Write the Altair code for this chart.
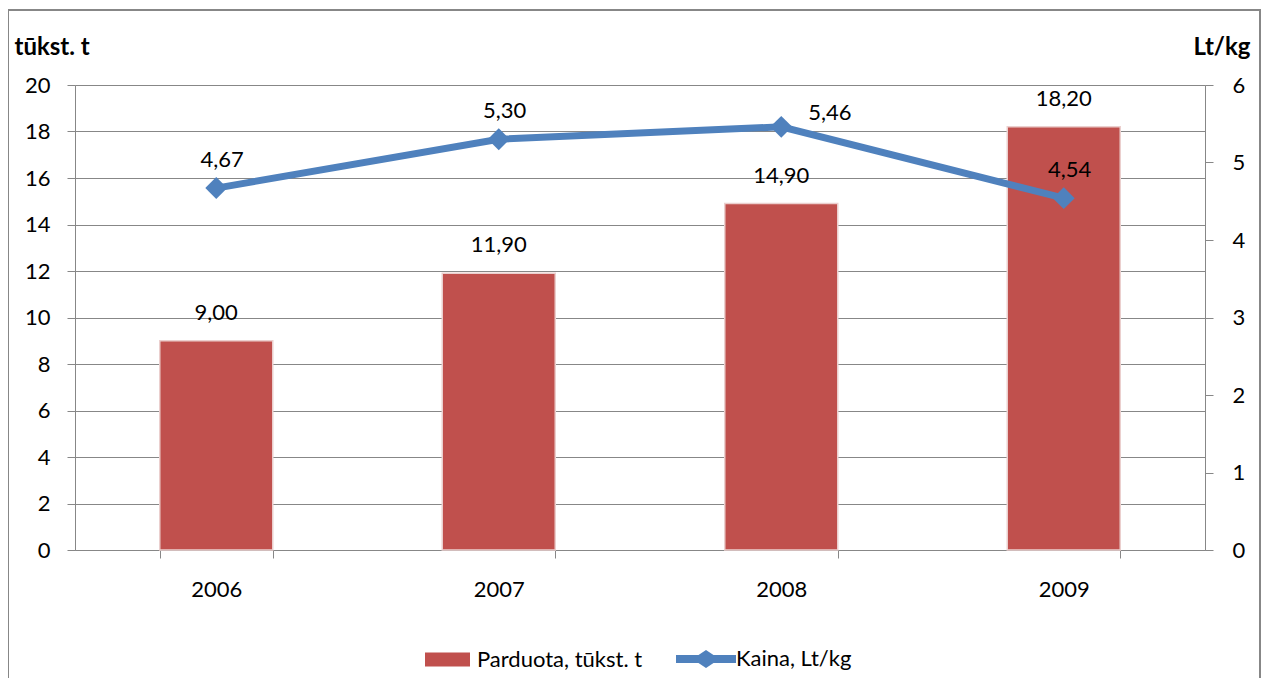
import altair as alt
import pandas as pd

years = ["2006", "2007", "2008", "2009"]
sold = [9.00, 11.90, 14.90, 18.20]
price = [4.67, 5.30, 5.46, 4.54]
sold_name = "Parduota, tūkst. t"
price_name = "Kaina, Lt/kg"

RED = "#C0504D"
BLUE = "#4F81BD"
GRAY = "#878787"
FONT = "Lato"
FS = 22

df = pd.DataFrame({
    "year": years,
    "sold": sold,
    "price": price,
    "sold_lbl": [f"{v:.2f}".replace(".", ",") for v in sold],
    "price_lbl": [f"{v:.2f}".replace(".", ",") for v in price],
    "s1": [sold_name] * len(years),
    "s2": [price_name] * len(years),
})

xenc = alt.X(
    "year:N",
    sort=years,
    scale=alt.Scale(paddingInner=0.6, paddingOuter=0.3),
    axis=alt.Axis(
        title=None, labelAngle=0, labelFontSize=FS, labelColor="black", labelFont=FONT,
        labelPadding=21, tickBand="extent", tickSize=8, tickColor=GRAY,
        domainColor=GRAY, grid=False,
    ),
)

yleft = alt.Y(
    "sold:Q",
    scale=alt.Scale(domain=[0, 20], nice=False),
    axis=alt.Axis(
        orient="left", values=list(range(0, 21, 2)), grid=True, gridColor=GRAY,
        domainColor=GRAY, tickColor=GRAY, tickSize=8, labelFontSize=FS, labelFont=FONT,
        labelColor="black", labelPadding=17, title="tūkst. t", titleAngle=0,
        titleAlign="left", titleBaseline="alphabetic", titleX=-61, titleY=-31,
        titleFontSize=24, titleFont=FONT, titleFontWeight="bold", titleColor="black",
    ),
)

yright = alt.Y(
    "price:Q",
    scale=alt.Scale(domain=[0, 6], nice=False),
    axis=alt.Axis(
        orient="right", values=list(range(0, 7)), grid=False,
        domainColor=GRAY, tickColor=GRAY, tickSize=8, labelFontSize=FS, labelFont=FONT,
        labelColor="black", labelPadding=19, title="Lt/kg", titleAngle=0,
        titleAlign="right", titleBaseline="alphabetic", titleX=45, titleY=-31,
        titleFontSize=24, titleFont=FONT, titleFontWeight="bold", titleColor="black",
    ),
)

base = alt.Chart(df)

bars = base.mark_bar(stroke="#EBCFCE", strokeWidth=1.5).encode(
    x=xenc,
    y=yleft,
    color=alt.Color(
        "s1:N",
        scale=alt.Scale(domain=[sold_name], range=[RED]),
        legend=alt.Legend(
            title=None, orient="none", legendX=350, legendY=552, padding=0,
            symbolType="M-1,-0.31H1V0.31H-1Z", symbolSize=2025, symbolStrokeWidth=0,
            labelFontSize=FS, labelFont=FONT, labelColor="black", labelOffset=7,
            labelLimit=400,
        ),
    ),
)
bar_text = base.mark_text(baseline="middle", dy=-28, fontSize=FS, font=FONT, color="black").encode(
    x=xenc, y=yleft, text="sold_lbl:N"
)
left = alt.layer(bars, bar_text)

line = base.mark_line(color=BLUE, strokeWidth=7).encode(x=xenc, y=yright)
pts = base.mark_point(shape="diamond", filled=True, size=480, opacity=1).encode(
    x=xenc,
    y=yright,
    color=alt.Color(
        "s2:N",
        scale=alt.Scale(domain=[price_name], range=[BLUE]),
        legend=alt.Legend(
            title=None, orient="none", legendX=601, legendY=544, padding=0,
            symbolType="M-1,-0.13H-0.25L0,-0.3L0.25,-0.13H1V0.13H0.25L0,0.3L-0.25,0.13H-1Z",
            symbolSize=3600, symbolStrokeWidth=0, symbolOpacity=1,
            symbolFillColor=BLUE,
            labelFontSize=FS, labelFont=FONT, labelColor="black", labelOffset=0,
            labelLimit=400,
        ),
    ),
)
line_text = base.transform_filter(alt.datum.year != "2008").mark_text(
    baseline="middle", dx=6, dy=-28, fontSize=FS, font=FONT, color="black"
).encode(x=xenc, y=yright, text="price_lbl:N")
line_text_r = base.transform_filter(alt.datum.year == "2008").mark_text(
    baseline="middle", align="left", dx=27, dy=-14, fontSize=FS, font=FONT, color="black"
).encode(x=xenc, y=yright, text="price_lbl:N")
right = alt.layer(line, pts, line_text, line_text_r)

frame = alt.Chart(pd.DataFrame({"a": [0]})).mark_rect(
    fill=None, stroke=GRAY, strokeWidth=2, clip=False
).encode(
    x=alt.value(-67), x2=alt.value(1185), y=alt.value(-75), y2=alt.value(640)
)

chart = alt.layer(frame, left, right).resolve_scale(
    y="independent", color="independent"
).properties(
    width=1130,
    height=465,
    autosize=alt.AutoSizeParams(type="none"),
    padding={"left": 67, "top": 77, "right": 56, "bottom": 128},
).configure_view(stroke=None).configure(background="white")

chart.save("out.html", embed_options={"renderer": "svg", "actions": False})
